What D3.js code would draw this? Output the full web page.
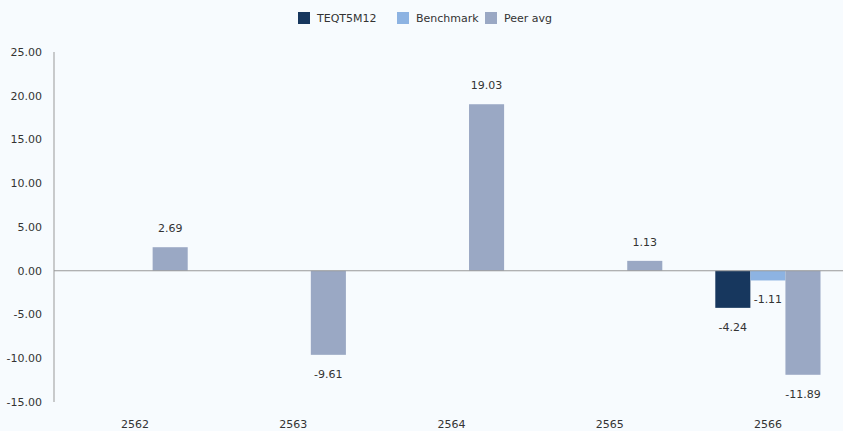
<!DOCTYPE html>
<html>
<head>
<meta charset="utf-8">
<script src="https://cdn.jsdelivr.net/npm/d3@7"></script>
<style>
  body { margin: 0; background: #f7fbfe; }
  text { font-family: "DejaVu Sans", sans-serif; fill: #333; }
</style>
</head>
<body>
<script>
var years = ["2562", "2563", "2564", "2565", "2566"];
var seriesNames = ["TEQT5M12", "Benchmark", "Peer avg"];
var fundValues = [null, null, null, null, -4.24];
var benchmarkValues = [null, null, null, null, -1.11];
var peerValues = [2.69, -9.61, 19.03, 1.13, -11.89];
var yTicks = [25, 20, 15, 10, 5, 0, -5, -10, -15];
var colors = ["#17375e", "#8db3e2", "#9aa8c4"];

var width = 843, height = 431;
var margin = {top: 52, right: 0, bottom: 30, left: 54};

var fmt = d3.formatLocale({decimal: ".", thousands: ",", grouping: [3], currency: ["", ""], minus: "-"}).format(".2f");

var svg = d3.select("body").append("svg")
    .attr("width", width)
    .attr("height", height);

var seriesValues = [fundValues, benchmarkValues, peerValues];

var x0 = d3.scaleBand()
    .domain(years)
    .range([56, 847])
    .paddingInner(0.335)
    .paddingOuter(0.1675);

var x1 = d3.scaleBand()
    .domain(seriesNames)
    .range([0, x0.bandwidth()]);

var y = d3.scaleLinear()
    .domain([-15, 25])
    .range([height - margin.bottom + 1, margin.top]);

// y axis labels
svg.append("g").selectAll("text")
    .data(yTicks)
  .enter().append("text")
    .attr("x", 42)
    .attr("y", function(d) { return y(d); })
    .attr("dy", "0.35em")
    .attr("text-anchor", "end")
    .style("font-size", "11px")
    .text(function(d) { return fmt(d); });

svg.append("line")
    .attr("x1", margin.left).attr("x2", margin.left)
    .attr("y1", y(25)).attr("y2", y(-15))
    .attr("stroke", "#999");

// bars
var groups = svg.append("g").selectAll("g")
    .data(years)
  .enter().append("g")
    .attr("transform", function(d) { return "translate(" + x0(d) + ",0)"; });

seriesNames.forEach(function(name, s) {
  groups.each(function(yr, i) {
    var v = seriesValues[s][i];
    if (v === null) return;
    var g = d3.select(this);
    g.append("rect")
        .attr("x", x1(name))
        .attr("width", x1.bandwidth())
        .attr("y", y(Math.max(0, v)))
        .attr("height", Math.abs(y(v) - y(0)))
        .attr("fill", colors[s]);
    g.append("text")
        .attr("x", x1(name) + x1.bandwidth() / 2)
        .attr("y", v >= 0 ? y(v) - 19 : y(v) + 19)
        .attr("dy", "0.35em")
        .attr("text-anchor", "middle")
        .style("font-size", "11px")
        .text(fmt(v));
  });
});

// zero line
svg.append("line")
    .attr("x1", margin.left).attr("x2", width)
    .attr("y1", y(0)).attr("y2", y(0))
    .attr("stroke", "#999");

// x labels
svg.append("g").selectAll("text")
    .data(years)
  .enter().append("text")
    .attr("x", function(d) { return x0(d) + x0.bandwidth() / 2; })
    .attr("y", 424)
    .attr("dy", "0.35em")
    .attr("text-anchor", "middle")
    .style("font-size", "11px")
    .text(function(d) { return d; });

// legend
var legendX = [298, 397, 485];
var legend = svg.append("g").selectAll("g")
    .data(seriesNames)
  .enter().append("g")
    .attr("transform", function(d, i) { return "translate(" + legendX[i] + ",12)"; });

legend.append("rect")
    .attr("width", 12).attr("height", 12)
    .attr("fill", function(d, i) { return colors[i]; });

legend.append("text")
    .attr("x", 19).attr("y", 6)
    .attr("dy", "0.35em")
    .style("font-size", "11px")
    .text(function(d) { return d; });
</script>
</body>
</html>
